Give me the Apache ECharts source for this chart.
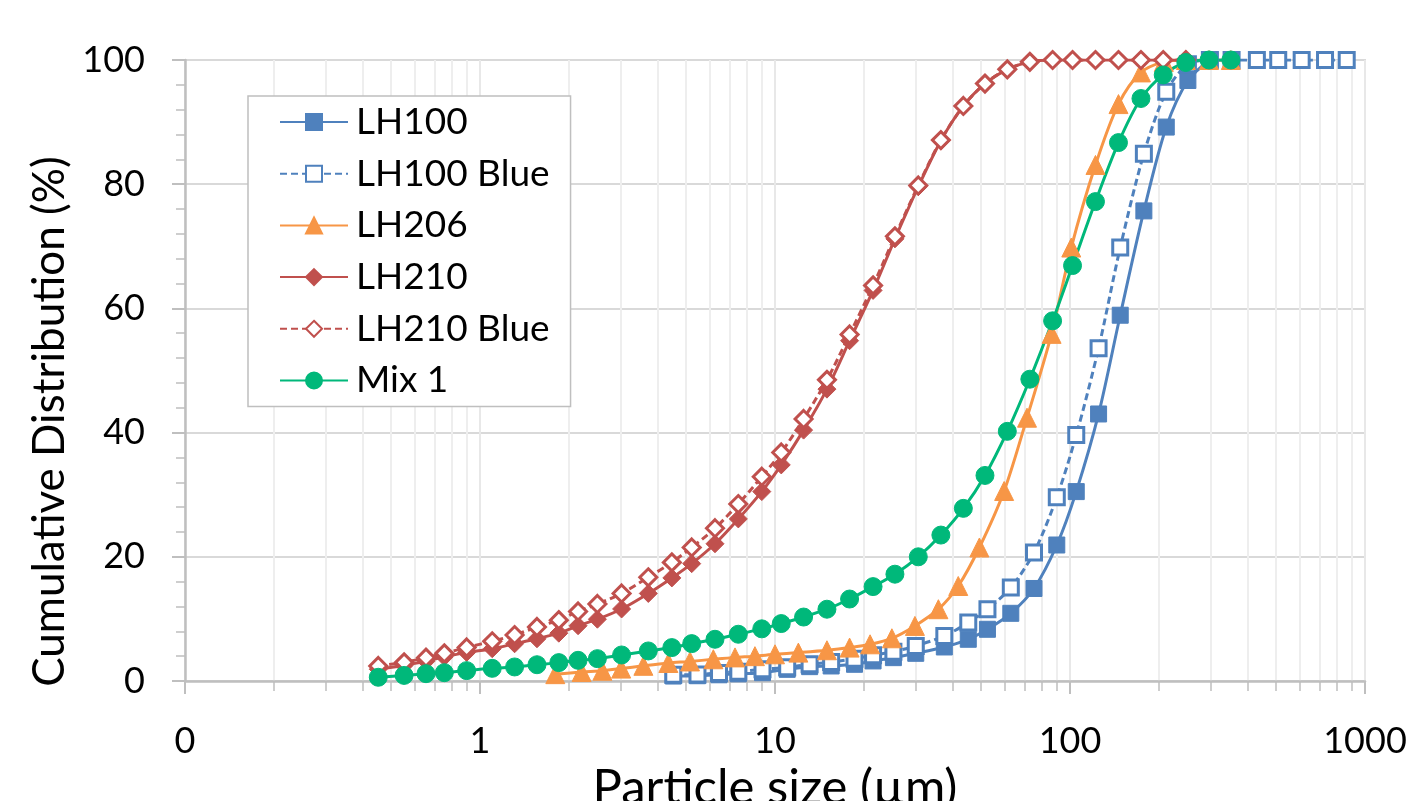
<!DOCTYPE html>
<html>
<head>
<meta charset="utf-8">
<script src="https://cdn.jsdelivr.net/npm/echarts@6/dist/echarts.min.js"></script>
<style>
  html, body { margin: 0; padding: 0; background: #fff; }
  #chart { width: 1407px; height: 801px; }
</style>
</head>
<body>
<div id="chart"></div>
<script>
// particle size classes (µm)
const sizesMix = [0.452, 0.553, 0.656, 0.757, 0.901, 1.10, 1.31, 1.56, 1.85, 2.15,
  2.50, 3.02, 3.72, 4.47, 5.22, 6.26, 7.51, 9.02, 10.5, 12.5,
  15.0, 17.9, 21.5, 25.5, 30.6, 36.5, 43.5, 51.5, 61.3, 73.1,
  87.3, 102, 122, 146, 174, 207, 247, 296, 351];
const sizesLH210 = sizesMix.slice(0, 37);
const sizesLH100 = [4.52, 5.46, 6.46, 7.51, 9.07, 11.0, 13.1, 15.5, 18.6, 21.5,
  25.2, 30.0, 37.5, 45.2, 52.5, 63.0, 75.5, 90.2, 105, 125,
  148, 178, 212, 251, 298, 353, 430, 508, 610, 732, 867];
const sizesLH206 = [1.80, 2.21, 2.60, 3.01, 3.58, 4.35, 5.15, 6.18, 7.32, 8.55,
  10.0, 12.0, 15.0, 17.9, 21.0, 24.9, 29.8, 35.8, 41.8, 49.3,
  59.8, 71.5, 86.6, 101, 122, 146, 174, 208, 247, 296, 351];

// cumulative distribution (%)
const lh100 = [0.8, 0.85, 1.0, 1.15, 1.34, 1.88, 2.31, 2.42, 2.69, 3.23,
  3.76, 4.46, 5.48, 6.72, 8.33, 10.9, 14.9, 21.9, 30.5, 43.0,
  58.9, 75.7, 89.2, 96.7, 100];
const lh100Blue = [1.0, 1.05, 1.3, 1.5, 1.88, 2.2, 2.69, 3.06, 3.6, 4.14,
  4.73, 5.65, 7.26, 9.41, 11.56, 15.05, 20.7, 29.6, 39.6, 53.6,
  69.8, 84.9, 94.9, 99.3, 100, 100, 100, 100, 100, 100, 100];
const lh206 = [1.1, 1.45, 1.65, 2.0, 2.45, 2.9, 3.15, 3.5, 3.8, 4.0,
  4.3, 4.57, 4.95, 5.38, 5.91, 6.88, 8.87, 11.56, 15.3, 21.5,
  30.6, 42.4, 55.9, 69.8, 83.1, 92.9, 98.0, 99.7, 100, 100, 100];
const lh210 = [1.9, 2.5, 3.2, 3.9, 4.6, 5.2, 6.0, 6.8, 7.7, 8.9,
  9.95, 11.6, 14.1, 16.6, 18.9, 22.1, 26.1, 30.5, 34.8, 40.4,
  47.0, 54.8, 62.9, 71.2, 79.6, 87.0, 92.6, 96.2, 98.5, 99.7,
  100, 100, 100, 100, 100, 100, 100];
const lh210Blue = [2.42, 3.0, 3.76, 4.45, 5.4, 6.4, 7.4, 8.7, 9.8, 11.2,
  12.4, 14.1, 16.7, 19.1, 21.5, 24.6, 28.5, 32.9, 36.8, 42.2,
  48.5, 55.8, 63.7, 71.6, 79.8, 87.1, 92.6, 96.2, 98.5, 99.7,
  100, 100, 100, 100, 100, 100, 100];
const mix1 = [0.6, 0.9, 1.18, 1.34, 1.67, 2.04, 2.26, 2.62, 2.96, 3.33,
  3.6, 4.19, 4.84, 5.38, 6.02, 6.72, 7.53, 8.4, 9.25, 10.3,
  11.56, 13.2, 15.2, 17.2, 20.0, 23.5, 27.8, 33.1, 40.2, 48.6,
  58.0, 66.9, 77.2, 86.7, 93.8, 97.6, 99.6, 100, 100];

const yTicks = [0, 20, 40, 60, 80, 100];

const FONT = 'Lato';
const BLUE = '#4F81BD', ORANGE = '#F79646', RED = '#C0504D', GREEN = '#00B87A';
const AXIS = '#BFBFBF';

function pairs(xs, ys) { return ys.map((y, i) => [xs[i], y]); }

function line(name, data, color, symbol, size, open, dashed) {
  return {
    name, type: 'line', data,
    smooth: 0.3,
    symbol, symbolSize: size,
    showSymbol: true,
    lineStyle: { color, width: 3, type: dashed ? [7, 4] : 'solid' },
    itemStyle: open
      ? { color: '#fff', borderColor: color, borderWidth: 3 }
      : { color, borderColor: color, borderWidth: 1 },
    emphasis: { disabled: true },
  };
}

const chart = echarts.init(document.getElementById('chart'));
chart.setOption({
  animation: false,
  textStyle: { fontFamily: FONT },
  grid: {
    left: 185, right: 42, top: 60, bottom: 120,
    outerBoundsMode: 'none',
    show: true, borderColor: '#D9D9D9', borderWidth: 2,
  },
  legend: {
    orient: 'vertical', left: 248, top: 96,
    padding: [6, 21, 6, 31],
    itemWidth: 68, itemHeight: 20, itemGap: 11.7,
    backgroundColor: '#fff', borderColor: AXIS, borderWidth: 1.5,
    textStyle: { fontFamily: FONT, fontSize: 37, color: '#000', lineHeight: 40, padding: [0, 0, 0, 3] },
  },
  xAxis: {
    type: 'log', logBase: 10, min: 0.1, max: 1000,
    name: 'Particle size (µm)', nameLocation: 'middle', nameGap: 77,
    nameTextStyle: { fontFamily: FONT, fontSize: 49, color: '#000' },
    axisLine: { lineStyle: { color: AXIS, width: 2.5 } },
    axisTick: { length: 13, lineStyle: { color: AXIS, width: 2 } },
    minorTick: { show: true, splitNumber: 9, length: 10, lineStyle: { color: AXIS, width: 1.5 } },
    splitLine: { show: true, lineStyle: { color: '#E8E8E8', width: 2 } },
    minorSplitLine: { show: true, lineStyle: { color: '#EEEEEE', width: 2 } },
    axisLabel: { formatter: v => String(Math.round(v)), fontFamily: FONT, fontSize: 36, color: '#000', margin: 42 },
  },
  yAxis: {
    type: 'value', min: yTicks[0], max: yTicks[yTicks.length - 1], interval: 20,
    name: 'Cumulative Distribution (%)', nameLocation: 'middle', nameGap: 99,
    nameTextStyle: { fontFamily: FONT, fontSize: 44, color: '#000', padding: [0, 102, 0, 0] },
    axisLine: { show: true, lineStyle: { color: AXIS, width: 2.5 } },
    axisTick: { show: true, length: 13, lineStyle: { color: AXIS, width: 2 } },
    minorTick: { show: true, splitNumber: 5, length: 9, lineStyle: { color: AXIS, width: 1.5 } },
    splitLine: { show: true, lineStyle: { color: '#D9D9D9', width: 2 } },
    axisLabel: { fontFamily: FONT, fontSize: 36, color: '#000', margin: 40 },
  },
  series: [
    line('LH100', pairs(sizesLH100, lh100), BLUE, 'rect', 16, false, false),
    line('LH100 Blue', pairs(sizesLH100, lh100Blue), BLUE, 'rect', 15, true, true),
    line('LH206', pairs(sizesLH206, lh206), ORANGE, 'triangle', 19, false, false),
    line('LH210', pairs(sizesLH210, lh210), RED, 'diamond', 18, false, false),
    line('LH210 Blue', pairs(sizesLH210, lh210Blue), RED, 'diamond', 17, true, true),
    line('Mix 1', pairs(sizesMix, mix1), GREEN, 'circle', 18, false, false),
  ],
});
</script>
</body>
</html>
